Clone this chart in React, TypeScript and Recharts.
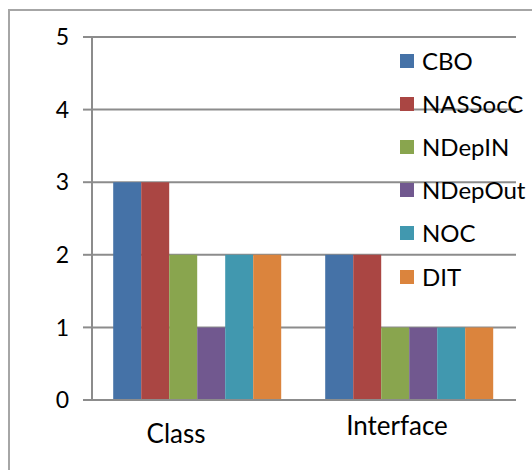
import { BarChart, Bar, XAxis, YAxis, CartesianGrid, Legend } from "recharts";

const categories = ["Class", "Interface"];
const seriesNames = ["CBO", "NASSocC", "NDepIN", "NDepOut", "NOC", "DIT"];
const cboValues = [3, 2];
const nassoccValues = [3, 2];
const ndepinValues = [2, 1];
const ndepoutValues = [1, 1];
const nocValues = [2, 1];
const ditValues = [2, 1];
const yTicks = [0, 1, 2, 3, 4, 5];

const seriesValues = [cboValues, nassoccValues, ndepinValues, ndepoutValues, nocValues, ditValues];
const colors = ["#4572A7", "#AA4643", "#89A54E", "#71588F", "#4198AF", "#DB843D"];

const data = categories.map((name, i) => {
  const row: Record<string, string | number> = { name };
  seriesNames.forEach((s, j) => {
    row[s] = seriesValues[j][i];
  });
  return row;
});

const FONT = "Lato, 'Open Sans', sans-serif";
const GRID = "#8c8c8c";

// the source image has the category labels nudged a little off-centre
const labelNudge = [
  { dx: -22, dy: 8 },
  { dx: -13, dy: 0 },
];

function CategoryTick(props: any) {
  const { x, y, payload, index } = props;
  const n = labelNudge[index] || { dx: 0, dy: 0 };
  return (
    <text
      x={x + n.dx}
      y={y + n.dy}
      dy={27}
      textAnchor="middle"
      fill="#000"
      fontSize={26}
      fontFamily={FONT}
    >
      {payload.value}
    </text>
  );
}

function renderLegend() {
  return (
    <div style={{ fontFamily: FONT, fontSize: 24, color: "#000", lineHeight: 1 }}>
      {seriesNames.map((s, i) => (
        <div key={s} style={{ display: "flex", alignItems: "center", height: 43.2 }}>
          <span style={{ width: 14, height: 14, background: colors[i], display: "inline-block", marginRight: 8, flexShrink: 0 }} />
          <span style={{ whiteSpace: "nowrap" }}>{s}</span>
        </div>
      ))}
    </div>
  );
}

export default function App() {
  return (
    <div style={{ position: "absolute", left: 0, top: 0, width: 532, height: 470, overflow: "hidden", background: "#fff" }}>
      <div
        style={{
          position: "absolute",
          left: 8,
          top: 9,
          width: 540,
          height: 480,
          borderLeft: "2px solid #a6a6a6",
          borderTop: "2px solid #a6a6a6",
        }}
      />
      <div style={{ position: "absolute", left: 0, top: 0 }}>
        <BarChart
          width={532}
          height={470}
          data={data}
          margin={{ top: 37, right: 16, left: 0, bottom: 30 }}
          barCategoryGap="10%"
          barGap={0}
        >
          <CartesianGrid vertical={false} stroke={GRID} strokeWidth={2} />
          <XAxis
            dataKey="name"
            height={40}
            tickLine={false}
            axisLine={{ stroke: GRID, strokeWidth: 2 }}
            tick={<CategoryTick />}
            interval={0}
          />
          <YAxis
            width={92}
            domain={[0, 5]}
            ticks={yTicks}
            tickSize={9}
            tickMargin={14}
            axisLine={{ stroke: GRID, strokeWidth: 2 }}
            tickLine={{ stroke: GRID, strokeWidth: 2 }}
            tick={{ fill: "#000", fontSize: 23, fontFamily: FONT }}
          />
          {seriesNames.map((s, i) => (
            <Bar key={s} dataKey={s} fill={colors[i]} isAnimationActive={false} />
          ))}
          <Legend
            layout="horizontal"
            verticalAlign="middle"
            align="center"
            content={renderLegend}
            wrapperStyle={{ position: "absolute", left: 400, top: 39, width: 140, height: 260 }}
          />
        </BarChart>
      </div>
    </div>
  );
}
